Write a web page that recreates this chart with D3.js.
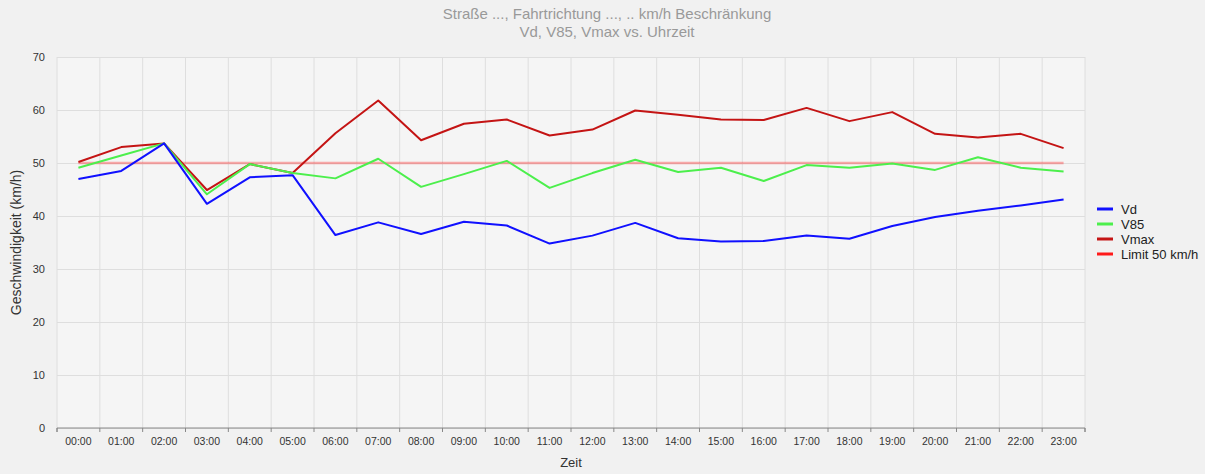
<!DOCTYPE html>
<html lang="de">
<head>
<meta charset="UTF-8">
<title>Vd, V85, Vmax vs. Uhrzeit</title>
<script src="https://d3js.org/d3.v7.min.js"></script>
<style>
    body { margin: 0; padding: 0; background: #f1f1f1; }
    svg { display: block; font-family: "Liberation Sans", Arial, sans-serif; }
    .grid line { stroke: #dedede; }
    .grid path { display: none; }
    .xaxis path, .xaxis line { stroke: #888; }
    .xaxis text { fill: #333; font-size: 10.5px; }
    .yaxis text { fill: #333; font-size: 11px; }
</style>
</head>
<body>
<svg id="chart" width="1205" height="474"></svg>
<script>
    // Stunden
    var hours = ["00:00", "01:00", "02:00", "03:00", "04:00", "05:00", "06:00", "07:00",
                 "08:00", "09:00", "10:00", "11:00", "12:00", "13:00", "14:00", "15:00",
                 "16:00", "17:00", "18:00", "19:00", "20:00", "21:00", "22:00", "23:00"];

    var vd = [47.0, 48.5, 53.7, 42.3, 47.3, 47.7, 36.4, 38.8, 36.6, 38.9, 38.2, 34.8,
              36.3, 38.7, 35.8, 35.2, 35.3, 36.3, 35.7, 38.1, 39.8, 41.0, 42.0, 43.1];
    var v85 = [49.1, 51.4, 53.7, 44.1, 49.8, 48.1, 47.1, 50.8, 45.5, 47.9, 50.4, 45.3,
               48.1, 50.6, 48.3, 49.1, 46.6, 49.6, 49.1, 49.9, 48.7, 51.1, 49.1, 48.4];
    var vmax = [50.2, 53.0, 53.7, 44.9, 49.8, 48.1, 55.6, 61.8, 54.3, 57.4, 58.2, 55.2,
                56.3, 59.9, 59.1, 58.2, 58.1, 60.4, 57.9, 59.6, 55.5, 54.8, 55.5, 52.8];
    var limit = hours.map(function() { return 50; });

    var yTicks = [0, 10, 20, 30, 40, 50, 60, 70];

    var series = [
        { name: "Vd", values: vd, color: "#1010ff", opacity: 1, w: 2 },
        { name: "V85", values: v85, color: "#4cef4c", opacity: 1, w: 2 },
        { name: "Vmax", values: vmax, color: "#c41414", opacity: 1, w: 2 },
        { name: "Limit 50 km/h", values: limit, color: "#ff1a1a", opacity: 0.35, w: 2.5 }
    ];

    var svg = d3.select("#chart");
    var margin = { top: 57, right: 120, bottom: 46, left: 57 };
    var width = 1205 - margin.left - margin.right,
        height = 474 - margin.top - margin.bottom;

    var x = d3.scaleBand().domain(hours).range([0, width]);
    var y = d3.scaleLinear().domain([0, 70]).range([height, 0]);

    // Titel
    svg.append("text").attr("x", 607).attr("y", 19).attr("text-anchor", "middle")
        .attr("fill", "#999").style("font-size", "15px")
        .text("Straße ..., Fahrtrichtung ..., .. km/h Beschränkung");
    svg.append("text").attr("x", 607).attr("y", 37).attr("text-anchor", "middle")
        .attr("fill", "#999").style("font-size", "15px")
        .text("Vd, V85, Vmax vs. Uhrzeit");

    var g = svg.append("g").attr("transform", "translate(" + margin.left + "," + margin.top + ")");

    g.append("rect").attr("width", width).attr("height", height).attr("fill", "#f5f5f5");

    // Gitter
    g.append("g").attr("class", "grid")
        .call(d3.axisLeft(y).tickValues(yTicks).tickSize(-width).tickFormat(""));
    var bounds = d3.range(hours.length + 1).map(function(i) { return i * x.bandwidth(); });
    g.append("g").attr("class", "grid")
        .selectAll("line").data(bounds).enter().append("line")
        .attr("x1", function(d) { return d; }).attr("x2", function(d) { return d; })
        .attr("y1", 0).attr("y2", height);

    // Achsen
    var xAxis = g.append("g").attr("class", "xaxis")
        .attr("transform", "translate(0," + height + ")")
        .call(d3.axisBottom(x).tickSize(0).tickPadding(10));
    xAxis.select(".domain").attr("d", "M0,4V0H" + width + "V4");
    xAxis.selectAll(".tickmark").data(bounds).enter().append("line")
        .attr("x1", function(d) { return d; }).attr("x2", function(d) { return d; })
        .attr("y1", 0).attr("y2", 4).attr("stroke", "#888");

    var yAxis = g.append("g").attr("class", "yaxis")
        .call(d3.axisLeft(y).tickValues(yTicks).tickSize(0).tickPadding(12));
    yAxis.select(".domain").remove();

    svg.append("text").attr("x", margin.left + width / 2).attr("y", 467)
        .attr("text-anchor", "middle").attr("fill", "#333").style("font-size", "13px")
        .text("Zeit");
    svg.append("text")
        .attr("transform", "translate(21," + (margin.top + height / 2) + ") rotate(-90)")
        .attr("text-anchor", "middle").attr("fill", "#333").style("font-size", "14px")
        .text("Geschwindigkeit (km/h)");

    // Linien
    var line = d3.line()
        .x(function(d, i) { return x(hours[i]) + x.bandwidth() / 2; })
        .y(function(d) { return y(d); });

    series.slice().reverse().forEach(function(s) {
        g.append("path").datum(s.values)
            .attr("fill", "none").attr("stroke", s.color)
            .attr("stroke-opacity", s.opacity)
            .attr("stroke-width", s.w).attr("stroke-linejoin", "round")
            .attr("d", line);
    });

    // Legende
    var legend = svg.append("g").attr("transform", "translate(1097,209)");
    series.forEach(function(s, i) {
        var row = legend.append("g").attr("transform", "translate(0," + (i * 15) + ")");
        row.append("line").attr("x1", 0).attr("x2", 16).attr("y1", 0).attr("y2", 0)
            .attr("stroke", s.color).attr("stroke-width", 3);
        row.append("text").attr("x", 24).attr("y", 4.5).attr("fill", "#222")
            .style("font-size", "13px").text(s.name);
    });
</script>
</body>
</html>
